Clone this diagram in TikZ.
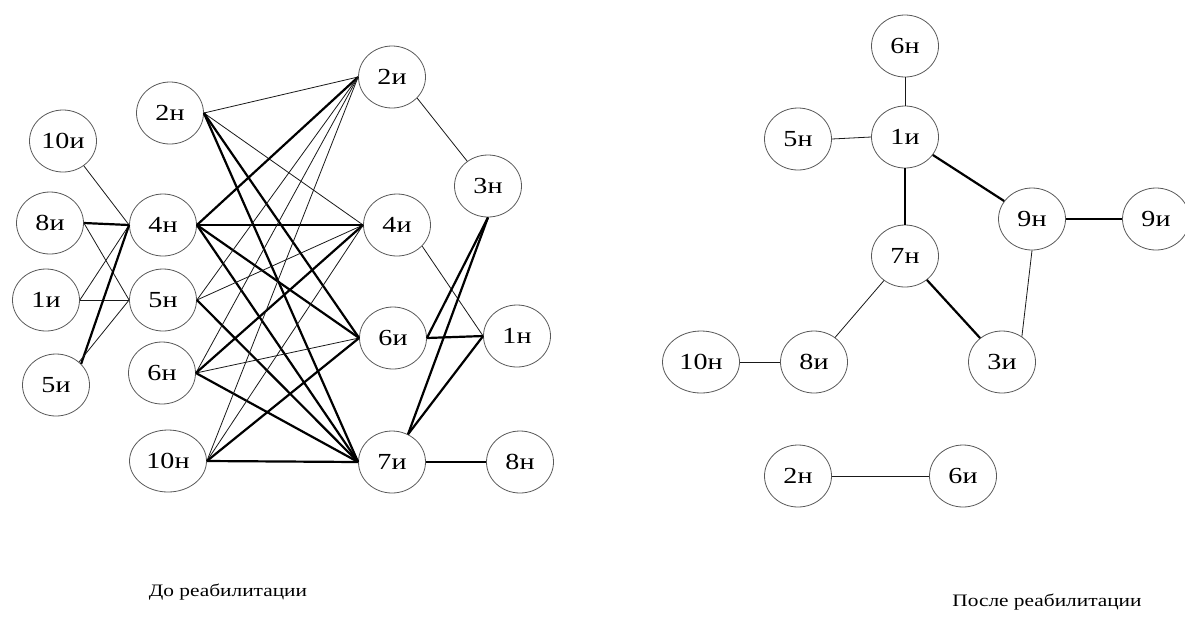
\documentclass[tikz,border=0pt]{standalone}
\usepackage{fontspec}
\setmainfont{Liberation Serif}[FakeStretch=1.22]
\usetikzlibrary{shapes.geometric}
\tikzset{
  vert/.style={ellipse, draw=black!65, line width=0.8pt, minimum width=67pt, minimum height=62pt, inner sep=0pt, font=\fontsize{23}{26}\selectfont},
  wide/.style={minimum width=77pt},
  thin/.style={line width=0.8pt, black!90},
  thick/.style={line width=2.2pt, black},
  caption/.style={font=\fontsize{17.5}{21}\selectfont, inner sep=0pt}
}
\begin{document}
\begin{tikzpicture}[x=1pt, y=-1pt]
\useasboundingbox (0,0) rectangle (1185,630);
\fill[white] (0,0) rectangle (1185,630);
% ---------- left graph ----------
\node[vert] (a10i) at (63,141) {10и};
\node[vert] (a8i) at (50,223) {8и};
\node[vert] (a1i) at (46,300) {1и};
\node[vert] (a5i) at (56,385) {5и};
\node[vert] (a2n) at (170,113) {2н};
\node[vert] (a4n) at (163,225) {4н};
\node[vert] (a5n) at (163,300) {5н};
\node[vert] (a6n) at (162,373) {6н};
\node[vert,wide] (a10n) at (168,461) {10н};
\node[vert] (a2i) at (392,77) {2и};
\node[vert] (a4i) at (397,225) {4и};
\node[vert] (a6i) at (393,338) {6и};
\node[vert] (a7i) at (392,462) {7и};
\node[vert] (a3n) at (488,186) {3н};
\node[vert] (a1n) at (517,336) {1н};
\node[vert] (a8n) at (520,462) {8н};
% left cluster
\draw[thin] (a10i.-50) -- (a4n.west);
\draw[thick] (a8i.east) -- (a4n.west);
\draw[thin] (a8i.east) -- (a5n.west);
\draw[thin] (a1i.east) -- (a4n.west);
\draw[thin] (a1i.east) -- (a5n.west);
\draw[thick] (a5i.40) -- (a4n.west);
\draw[thin] (a5i.45) -- (a5n.west);
% middle fan
\draw[thin] (a2n.east) -- (a2i.west);
\draw[thin] (a2n.east) -- (a4i.west);
\draw[thick] (a2n.east) -- (a6i.west);
\draw[thick] (a2n.east) -- (a7i.west);
\draw[thick] (a4n.east) -- (a2i.west);
\draw[thick] (a4n.east) -- (a4i.west);
\draw[thick] (a4n.east) -- (a6i.west);
\draw[thick] (a4n.east) -- (a7i.west);
\draw[thin] (a5n.east) -- (a2i.west);
\draw[thin] (a5n.east) -- (a4i.west);
\draw[thick] (a5n.east) -- (a7i.west);
\draw[thin] (a6n.east) -- (a2i.west);
\draw[thick] (a6n.east) -- (a4i.west);
\draw[thin] (a6n.east) -- (a6i.west);
\draw[thick] (a6n.east) -- (a7i.west);
\draw[thin] (a10n.east) -- (a2i.west);
\draw[thin] (a10n.east) -- (a4i.west);
\draw[thick] (a10n.east) -- (a6i.west);
\draw[thick] (a10n.east) -- (a7i.west);
% right part
\draw[thin] (a2i.-40) -- (a3n.130);
\draw[thin] (a4i.-40) -- (a1n.west);
\draw[thick] (a3n.south) -- (a6i.east);
\draw[thick] (a3n.south) -- (a7i.60);
\draw[thick] (a6i.east) -- (a1n.west);
\draw[thick] (a7i.60) -- (a1n.west);
\draw[thick] (a7i.east) -- (a8n.west);
% ---------- right graph ----------
\node[vert] (b6n) at (905,46) {6н};
\node[vert] (b5n) at (798,139) {5н};
\node[vert] (b1i) at (905,137) {1и};
\node[vert] (b9n) at (1032,219) {9н};
\node[vert] (b9i) at (1156,219) {9и};
\node[vert] (b7n) at (905,256) {7н};
\node[vert,wide] (b10n) at (701,362) {10н};
\node[vert] (b8i) at (814,362) {8и};
\node[vert] (b3i) at (1002,362) {3и};
\node[vert] (b2n) at (798,476) {2н};
\node[vert] (b6i) at (963,476) {6и};
\draw[thin] (b6n.south) -- (b1i.north);
\draw[thin] (b5n.east) -- (b1i.west);
\draw[thick] (b1i) -- (b9n);
\draw[thick] (b1i.south) -- (b7n.north);
\draw[thick] (b9n.east) -- (b9i.west);
\draw[thin] (b9n.south) -- (b3i.52);
\draw[thick] (b7n) -- (b3i);
\draw[thin] (b7n) -- (b8i);
\draw[thin] (b10n.east) -- (b8i.west);
\draw[thin] (b2n.east) -- (b6i.west);
% captions
\node[caption] (capL) at (228,592) {До реабилитации};
\node[caption] (capR) at (1047,602) {После реабилитации};
\end{tikzpicture}
\end{document}
